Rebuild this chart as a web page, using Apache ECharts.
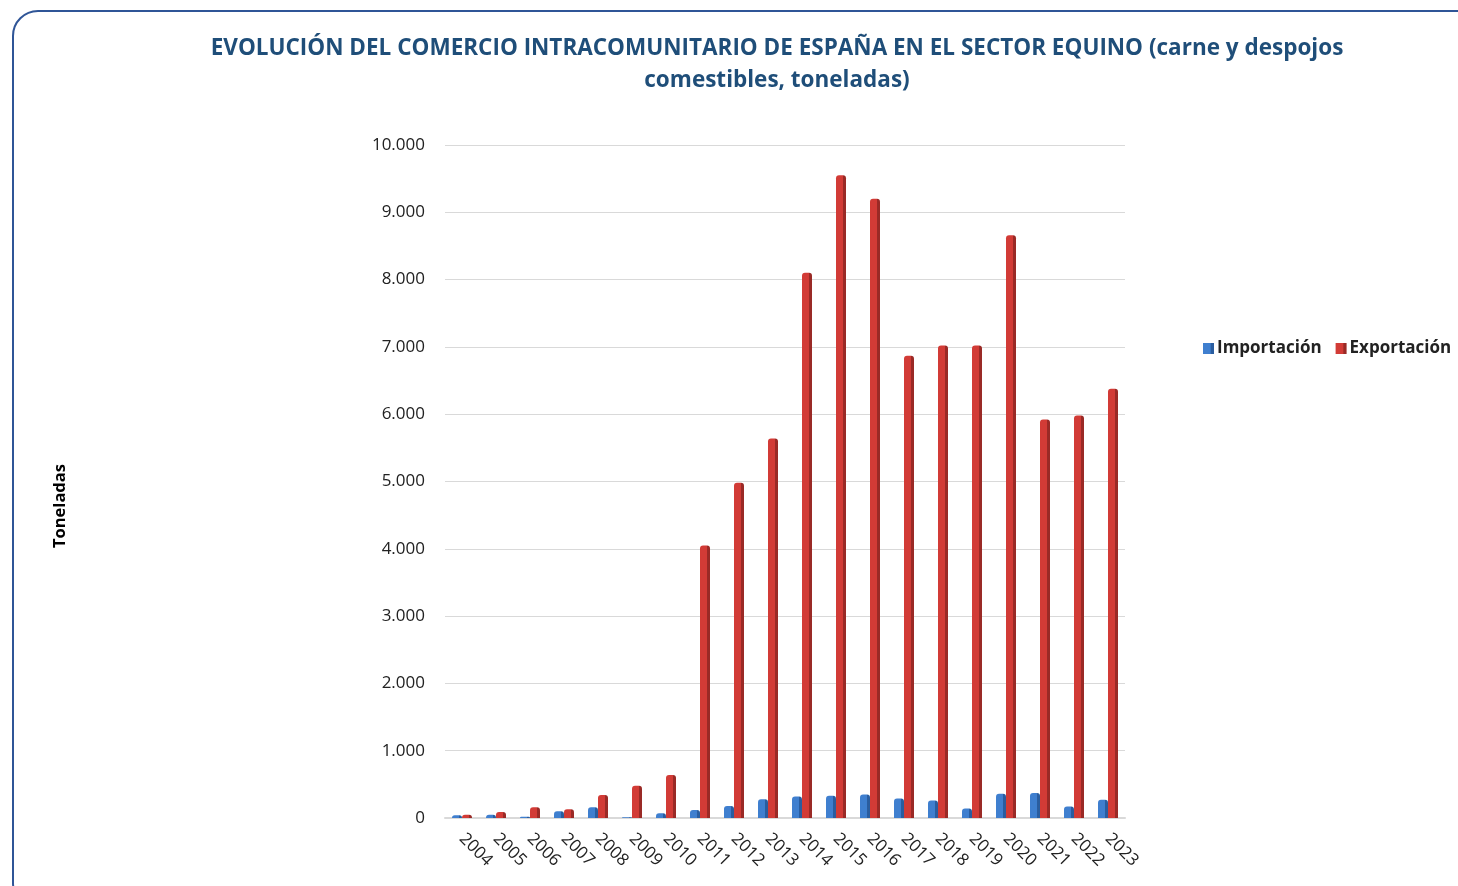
<!DOCTYPE html>
<html>
<head>
<meta charset="utf-8">
<script src="https://cdn.jsdelivr.net/npm/echarts@6/dist/echarts.min.js"></script>
<style>
  html, body { margin: 0; padding: 0; background: #fff; overflow: hidden; }
  #frame {
    position: absolute; left: 12px; top: 10px; width: 1480px; height: 900px;
    border: 2px solid #2F5597; border-radius: 26px; box-sizing: border-box;
  }
  #chart { position: absolute; left: 0; top: 0; width: 1458px; height: 886px; }
</style>
</head>
<body>
<div id="frame"></div>
<div id="chart"></div>
<script>
// Años de la serie
const years = ['2004','2005','2006','2007','2008','2009','2010','2011','2012','2013',
               '2014','2015','2016','2017','2018','2019','2020','2021','2022','2023'];
// Importación (toneladas)
const importacion = [40, 50, 20, 100, 160, 10, 70, 120, 180, 280,
                     320, 330, 350, 290, 260, 140, 360, 370, 170, 270];
// Exportación (toneladas)
const exportacion = [50, 90, 160, 130, 340, 480, 640, 4050, 4980, 5640,
                     8100, 9550, 9200, 6870, 7020, 7020, 8660, 5920, 5980, 6380];
// Marcas del eje de valores
const yTicks = [0, 1000, 2000, 3000, 4000, 5000, 6000, 7000, 8000, 9000, 10000];

const font = '"Open Sans", "Liberation Sans", sans-serif';
const fmt = v => v.toLocaleString('de-DE');

function shade(light, dark) {
  return new echarts.graphic.LinearGradient(0, 0, 1, 0, [
    { offset: 0, color: light },
    { offset: 0.65, color: light },
    { offset: 0.75, color: dark },
    { offset: 1, color: dark }
  ]);
}

const chart = echarts.init(document.getElementById('chart'));
chart.setOption({
  animation: false,
  title: {
    text: 'EVOLUCIÓN DEL COMERCIO INTRACOMUNITARIO DE ESPAÑA EN EL SECTOR EQUINO (carne y despojos\ncomestibles, toneladas)',
    left: 772, top: 28, textAlign: 'center',
    textStyle: { fontFamily: font, fontSize: 22.5, fontWeight: 'bold', color: '#1F4E79', lineHeight: 32 }
  },
  legend: {
    left: 1198, top: 335, itemGap: 14, itemWidth: 11, itemHeight: 11, icon: 'rect',
    textStyle: { fontFamily: font, fontSize: 17, fontWeight: 'bold', color: '#222', padding: [0, 0, 0, -2] },
    data: ['Importación', 'Exportación']
  },
  // Título del eje de valores
  graphic: [{
    type: 'text', x: 52, y: 548, rotation: Math.PI / 2,
    style: { text: 'Toneladas', fontFamily: font, fontSize: 16.5, fontWeight: 'bold', fill: '#000' }
  }],
  grid: { left: 445, right: 333, top: 145, bottom: 68, containLabel: false },
  xAxis: {
    type: 'category', data: years,
    axisLine: { show: true, lineStyle: { color: '#D9D9D9', width: 2 } },
    axisTick: { show: false },
    axisLabel: { rotate: -45, fontFamily: font, fontSize: 17, color: '#222', margin: 18 }
  },
  yAxis: {
    type: 'value', min: yTicks[0], max: yTicks[yTicks.length - 1], interval: 1000,
    axisLine: { show: false }, axisTick: { show: false },
    axisLabel: { fontFamily: font, fontSize: 17, color: '#222', margin: 20, formatter: fmt },
    splitLine: { lineStyle: { color: '#D9D9D9', width: 1 } }
  },
  series: [
    {
      name: 'Importación', type: 'bar', data: importacion, barWidth: 10, barGap: '0%',
      itemStyle: { color: shade('#3F7FCF', '#2A5D9F'), borderRadius: [3, 3, 0, 0] }
    },
    {
      name: 'Exportación', type: 'bar', data: exportacion, barWidth: 10,
      itemStyle: { color: shade('#D23B36', '#9A2A26'), borderRadius: [3, 3, 0, 0] }
    }
  ]
});
</script>
</body>
</html>
